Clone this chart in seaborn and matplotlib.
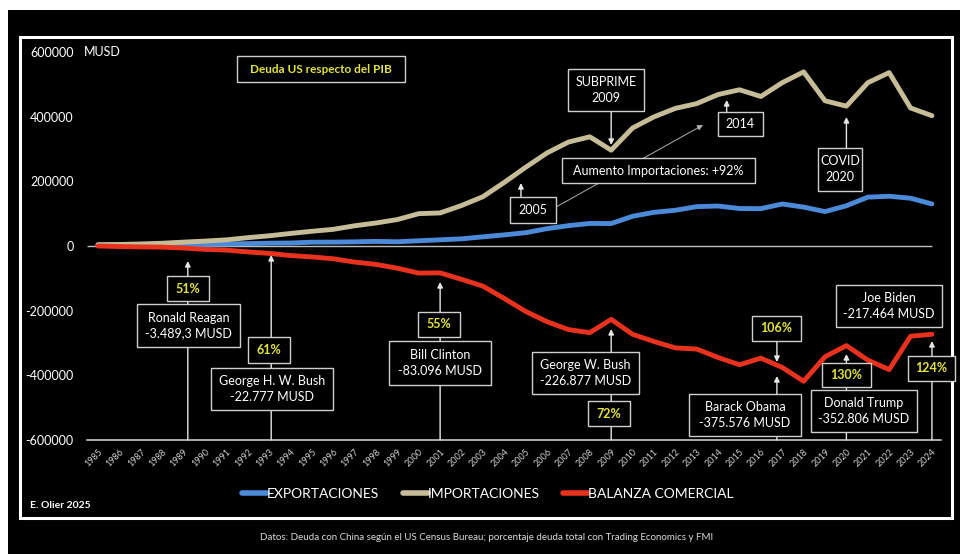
import numpy as np
import pandas as pd
import matplotlib
matplotlib.use("Agg")
import matplotlib.pyplot as plt
from matplotlib.patches import Rectangle
import seaborn as sns

# Comercio de bienes EE.UU. - China (millones de USD)
years = list(range(1985, 2025))
exportaciones = [3856, 3106, 3497, 5021, 5755, 4806, 6278, 7418, 8763, 9282,
                 11754, 11993, 12862, 14241, 13111, 16185, 19182, 22128, 28368, 34428,
                 41192, 53673, 62937, 69733, 69497, 91911, 104122, 110516, 121746, 123657,
                 115873, 115595, 129894, 120281, 106448, 124485, 151065, 153837, 147800, 130000]
importaciones = [3862, 4771, 6293, 8511, 11990, 15237, 18969, 25728, 31540, 38787,
                 45543, 51513, 62558, 71169, 81788, 100018, 102278, 125193, 152436, 196682,
                 243470, 287774, 321443, 337773, 296374, 364953, 399371, 425619, 440430, 468475,
                 483202, 462420, 505166, 538514, 449110, 432548, 504938, 536307, 426885, 403000]
balanza = [-6, -1665, -2796, -3489.3, -6235, -10431, -12691, -18309, -22777, -29505,
           -33790, -39520, -49696, -56927, -68677, -83833, -83096, -103065, -124068, -162254,
           -202278, -234101, -258506, -268040, -226877, -273042, -295250, -315102, -318684, -344818,
           -367328, -346825, -375576, -418232, -342630, -308022, -352806, -382293, -279079, -273000]

series_names = ["EXPORTACIONES", "IMPORTACIONES", "BALANZA COMERCIAL"]
series_colors = ["#4a8ad8", "#c6bd98", "#e8321e"]
y_ticks = [-600000, -400000, -200000, 0, 200000, 400000, 600000]

df = pd.DataFrame({
    "Año": years * 3,
    "Valor": exportaciones + importaciones + balanza,
    "Serie": np.repeat(series_names, len(years)),
})

sns.set_style("dark", rc={"axes.facecolor": "black", "figure.facecolor": "white",
                          "axes.grid": False})
plt.rcParams["font.family"] = ["Lato", "DejaVu Sans"]

YELLOW = "#e4e43c"
EDGE = "#cfcfcf"

fig = plt.figure(figsize=(9.6, 5.54), dpi=100, facecolor="white")
W, H = 960, 554
# black panel and white frame
fig.patches.append(Rectangle((8 / W, 0), 952 / W, 544 / H, transform=fig.transFigure,
                             facecolor="black", edgecolor="none", zorder=-2))
fig.patches.append(Rectangle((20 / W, 36 / H), 932 / W, 481 / H, transform=fig.transFigure,
                             fill=False, edgecolor="white", linewidth=2.2, zorder=-1))

ax = fig.add_axes([87.3 / W, 114 / H, 853.2 / W, 388 / H])
ax.set_facecolor("none")
ax.set_zorder(1)

sns.lineplot(data=df, x="Año", y="Valor", hue="Serie", hue_order=series_names,
             palette=series_colors, linewidth=3.5, ax=ax, legend=True, zorder=4)
for ln in ax.lines:
    ln.set_solid_capstyle("round")
    ln.set_solid_joinstyle("round")
handles, labels = ax.get_legend_handles_labels()
ax.get_legend().remove()

ax.set_xlim(1984.5, 2024.4)
ax.set_ylim(-600000, 600000)
ax.hlines(0, 1984.5, years[-1], color="#bdbdbd", linewidth=1, zorder=2)

for side in ["top", "right", "left"]:
    ax.spines[side].set_visible(False)
ax.spines["bottom"].set_color("#d8d8d8")
ax.spines["bottom"].set_linewidth(1.1)

ax.set_xticks(years)
ax.set_xticklabels([str(y) for y in years], rotation=45, ha="right", va="top",
                   rotation_mode="anchor", fontsize=6.5, color="#d0d0d0")
ax.set_yticks(y_ticks)
ax.set_yticklabels([str(v) for v in y_ticks], fontsize=9, color="white")
ax.tick_params(axis="both", length=0)
ax.tick_params(axis="y", pad=10)
ax.tick_params(axis="x", pad=5)
ax.set_xlabel("")
ax.set_ylabel("")

ax.text(1984.35, 600000, "MUSD", color="white", fontsize=9, ha="left", va="center",
        clip_on=False)


def caja(x0, x1, y0, y1, texto, color="white", size=9, weight="normal"):
    ax.add_patch(Rectangle((x0, y0), x1 - x0, y1 - y0, facecolor="black",
                           edgecolor=EDGE, linewidth=1, zorder=6, clip_on=False))
    ax.text((x0 + x1) / 2, (y0 + y1) / 2, texto, color=color, ha="center", va="center",
            fontsize=size, fontweight=weight, linespacing=1.4, zorder=7, clip_on=False)


def flecha(x0, y0, x1, y1, color="#e6e6e6", lw=1.0):
    ax.annotate("", xy=(x1, y1), xytext=(x0, y0), zorder=3,
                arrowprops=dict(arrowstyle="-|>", color=color, lw=lw,
                                mutation_scale=8, shrinkA=0, shrinkB=0))


# upper notes
caja(1991.50, 1999.36, 507200, 587600, "Deuda US respecto del PIB", color=YELLOW,
     size=8.5, weight="bold")
caja(2006.98, 2010.53, 417500, 547400, "SUBPRIME\n2009")
flecha(2009, 417500, 2009, 312400)
flecha(2006.42, 120600, 2013.29, 374200, color="#b0b0b0", lw=0.7)
caja(2013.98, 2016.08, 340200, 414400, "2014")
flecha(2014.4, 414400, 2014.4, 451600)
caja(2006.70, 2015.72, 194800, 272200, "Aumento Importaciones: +92%")
caja(2004.27, 2006.42, 71100, 151500, "2005")
flecha(2004.78, 151500, 2004.78, 194800)
caja(2018.67, 2020.73, 170100, 303100, "COVID\n2020")
flecha(2020, 303100, 2020, 399000)

# presidential terms
flecha(1989.2, -600000, 1989.2, -46400)
caja(1988.23, 1990.19, -170100, -92800, "51%", color=YELLOW, weight="bold")
caja(1986.82, 1991.64, -312400, -179400, "Ronald Reagan\n-3.489,3 MUSD")

flecha(1993.1, -600000, 1993.1, -27800)
caja(1992.01, 1993.98, -361900, -281400, "61%", color=YELLOW, weight="bold")
caja(1990.28, 1995.99, -507200, -377300, "George H. W. Bush\n-22.777 MUSD")

flecha(2001, -600000, 2001, -111300)
caja(1999.96, 2001.93, -281400, -204100, "55%", color=YELLOW, weight="bold")
caja(1998.61, 2003.38, -429900, -293800, "Bill Clinton\n-83.096 MUSD")

flecha(2009, -600000, 2009, -256700)
caja(2005.29, 2010.30, -457700, -327800, "George W. Bush\n-226.877 MUSD")
caja(2007.91, 2009.88, -556700, -479400, "72%", color=YELLOW, weight="bold")

flecha(2016.75, -600000, 2016.75, -402100)
flecha(2016.75, -293800, 2016.75, -358800)
caja(2015.58, 2017.87, -293800, -216500, "106%", color=YELLOW, weight="bold")
caja(2012.64, 2017.87, -587600, -457700, "Barack Obama\n-375.576 MUSD")

flecha(2020, -600000, 2020, -334000)
caja(2018.86, 2021.15, -436100, -361900, "130%", color=YELLOW, weight="bold")
caja(2018.34, 2023.30, -575300, -445400, "Donald Trump\n-352.806 MUSD")

flecha(2024, -600000, 2024, -293800)
caja(2019.51, 2024.47, -250500, -120600, "Joe Biden\n-217.464 MUSD")
caja(2022.88, 2025.08, -417500, -340200, "124%", color=YELLOW, weight="bold")

# legend
for h in handles:
    h.set_linewidth(4)
leg = fig.legend(handles, labels, loc="center", bbox_to_anchor=(488 / W, 1 - 494 / H),
                 ncol=3, frameon=False, handlelength=1.8, handletextpad=0.0,
                 columnspacing=1.7, prop={"family": "Lato", "size": 10})
for t in leg.get_texts():
    t.set_color("white")

fig.text(30 / W, 1 - 505 / H, "E. Olier 2025", color="white", fontsize=7.5,
         fontweight="bold", ha="left", va="center")
fig.text(487 / W, 1 - 537 / H,
         "Datos: Deuda con China según el US Census Bureau; porcentaje deuda total con "
         "Trading Economics y FMI",
         color="#dcdcdc", fontsize=7, ha="center", va="center")

fig.savefig("out.png", dpi=100, facecolor=fig.get_facecolor())
